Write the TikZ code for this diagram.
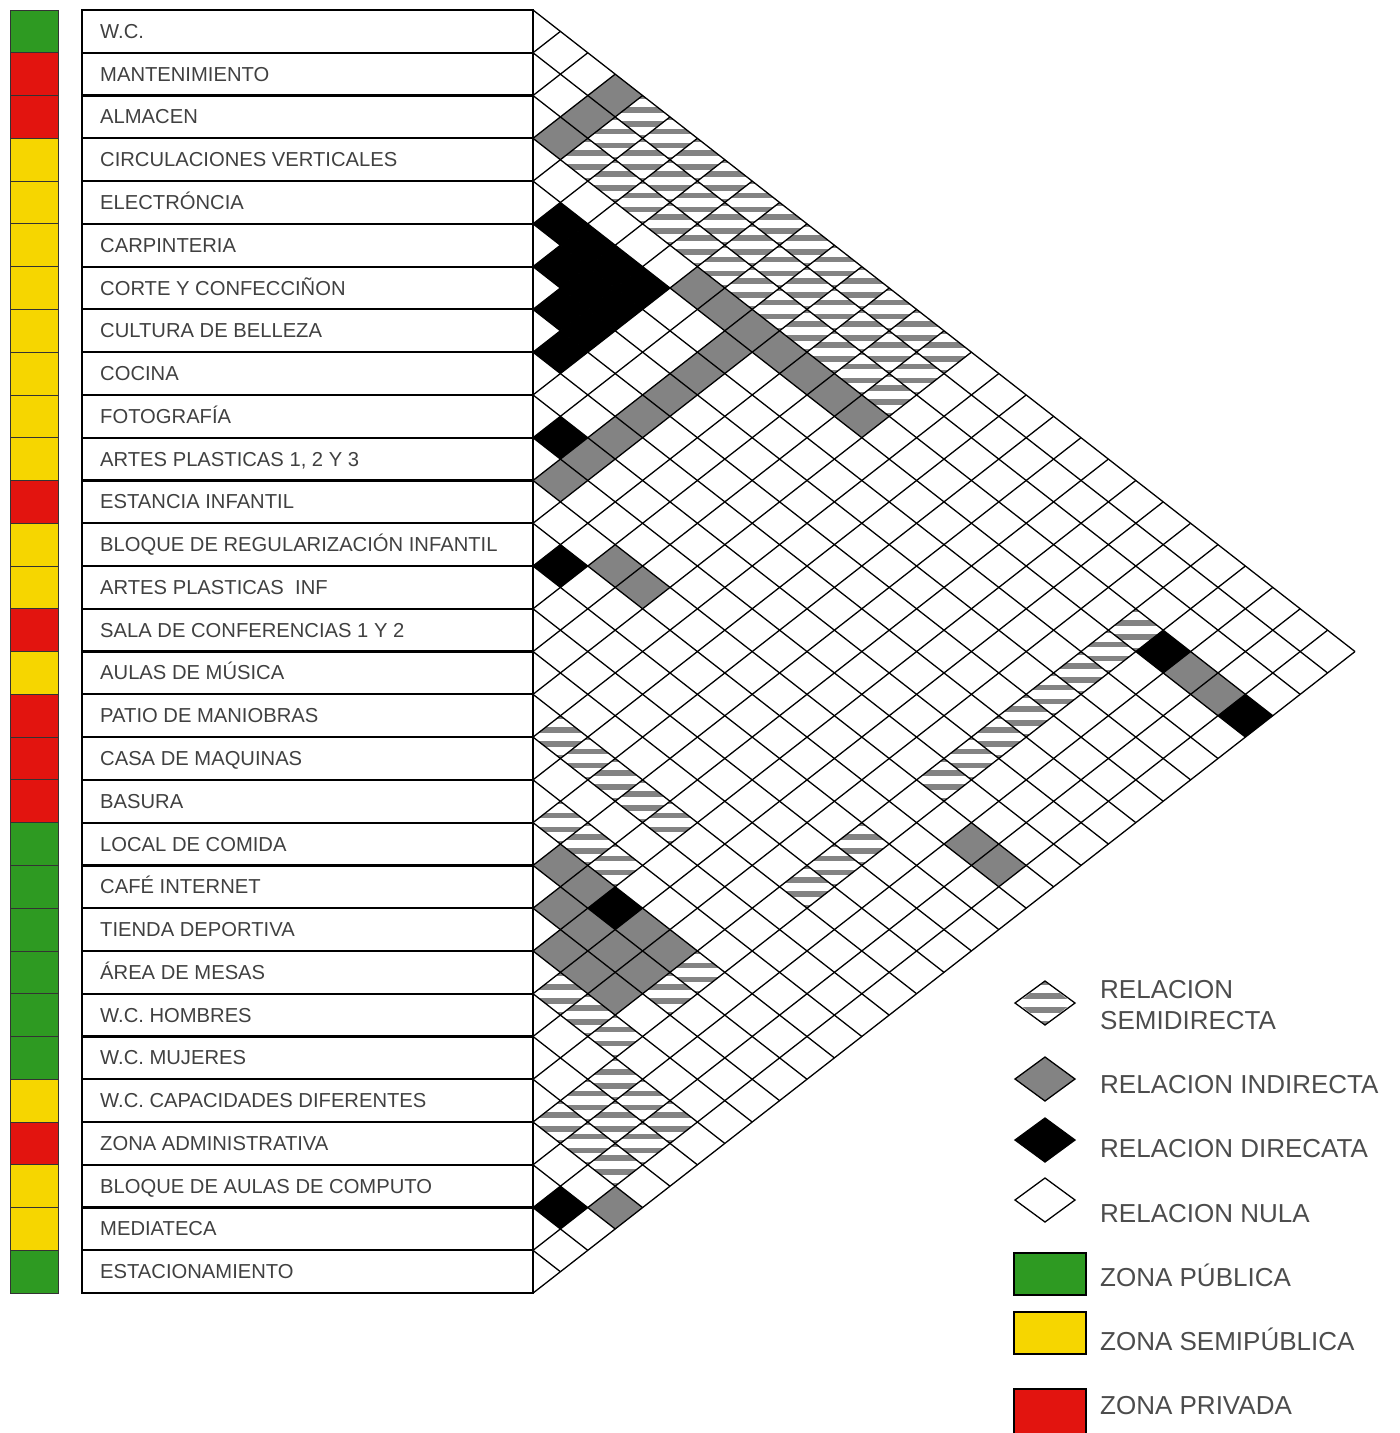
\documentclass[tikz,border=0pt]{standalone}
\usepackage{fontspec}
\setmainfont{Liberation Sans}
\definecolor{zpub}{HTML}{2E9A22}
\definecolor{zsemi}{HTML}{F6D600}
\definecolor{zpriv}{HTML}{E2140F}
\definecolor{celgray}{HTML}{838383}

% one diamond of the matrix: style, row i, row j
\newcommand{\relcell}[3]{%
  \pgfmathsetmacro{\cx}{533+(#3-#2)*27.4}%
  \pgfmathsetmacro{\cy}{10+(#2+#3-1)*21.385}%
  \fill[#1] (\cx-27.4,\cy) -- (\cx,\cy-21.385) -- (\cx+27.4,\cy) -- (\cx,\cy+21.385) -- cycle;}
% striped diamond (semidirect), center x, center y
\newcommand{\stripes}[2]{%
  \begin{scope}
    \clip (#1-27.4,#2) -- (#1,#2-21.385) -- (#1+27.4,#2) -- (#1,#2+21.385) -- cycle;
    \foreach \o in {-21,-7,7,21} {\fill[celgray] (#1-31,#2+\o-2.8) rectangle (#1+31,#2+\o+2.8);}
  \end{scope}}
\newcommand{\semicell}[2]{%
  \pgfmathsetmacro{\cx}{533+(#2-#1)*27.4}%
  \pgfmathsetmacro{\cy}{10+(#1+#2-1)*21.385}%
  \stripes{\cx}{\cy}}

\begin{document}
\begin{tikzpicture}[x=1pt,y=-1pt,
    rowlabel/.style={anchor=base west, inner sep=0pt, text=black!75, font=\fontsize{20.2}{21}\selectfont},
    legendtext/.style={anchor=base west, inner sep=0pt, text=black!70, font=\fontsize{26}{31}\selectfont},
    gridline/.style={line width=1.3pt},
    rowbox/.style={line width=2.2pt},
    zonebox/.style={draw=black!80, line width=0.8pt},
    legendbox/.style={draw=black, line width=2.5pt},
    indirecta/.style={fill=celgray},
    directa/.style={fill=black}]
    \useasboundingbox (0,0) rectangle (1400,1433);

    % Indirect relations
    \foreach \i/\j in {1/4,2/4,3/4,4/10,4/11,4/12,4/13,4/14,4/15,4/16,
        5/12,6/12,7/12,8/12,9/12,10/12,11/12,12/15,12/16,4/28,4/29,12/28,12/29,
        20/21,20/22,20/24,20/25,21/22,21/23,21/24,21/25,22/23,22/24,22/25,27/30}
        {\relcell{indirecta}{\i}{\j}}

    % Direct relations
    \foreach \i/\j in {5/6,5/7,5/8,5/9,6/7,6/8,6/9,7/8,7/9,8/9,
        10/11,13/14,4/27,4/30,20/23,28/29}
        {\relcell{directa}{\i}{\j}}

    % Semidirect relations
    \foreach \i in {1,2,3} {\foreach \j in {5,...,16} {\semicell{\i}{\j}}}
    \foreach \i in {4,...,11,14,15,16} {\semicell{\i}{26}}
    \foreach \i/\j in {17/18,17/19,17/20,17/21,17/22,19/20,19/21,19/22,
        20/26,21/26,23/24,23/25,23/26}
        {\semicell{\i}{\j}}
    \foreach \i in {24,25,26} {\foreach \j in {27,28,29} {\semicell{\i}{\j}}}

    % Grid of the matrix
    \foreach \k in {0,...,29}
        \draw[gridline] (533,10+\k*42.77) -- ++({(30-\k)*27.4},{(30-\k)*21.385});
    \foreach \k in {1,...,30}
        \draw[gridline] (533,10+\k*42.77) -- ++({\k*27.4},{-\k*21.385});

    % Rows with zone colour and name
    \foreach \name/\zc [count=\i] in {W.C./zpub, MANTENIMIENTO/zpriv, ALMACEN/zpriv,
        CIRCULACIONES VERTICALES/zsemi, ELECTRÓNCIA/zsemi, CARPINTERIA/zsemi,
        CORTE Y CONFECCIÑON/zsemi, CULTURA DE BELLEZA/zsemi, COCINA/zsemi,
        FOTOGRAFÍA/zsemi, {ARTES PLASTICAS 1, 2 Y 3}/zsemi, ESTANCIA INFANTIL/zpriv,
        BLOQUE DE REGULARIZACIÓN INFANTIL/zsemi, ARTES PLASTICAS\ \ INF/zsemi,
        SALA DE CONFERENCIAS 1 Y 2/zpriv, AULAS DE MÚSICA/zsemi,
        PATIO DE MANIOBRAS/zpriv, CASA DE MAQUINAS/zpriv, BASURA/zpriv,
        LOCAL DE COMIDA/zpub, CAFÉ INTERNET/zpub, TIENDA DEPORTIVA/zpub,
        ÁREA DE MESAS/zpub, W.C. HOMBRES/zpub, W.C. MUJERES/zpub,
        W.C. CAPACIDADES DIFERENTES/zsemi, ZONA ADMINISTRATIVA/zpriv,
        BLOQUE DE AULAS DE COMPUTO/zsemi, MEDIATECA/zsemi, ESTACIONAMIENTO/zpub}
    {
        \draw[zonebox, fill=\zc] (10,10+\i*42.77-42.77) rectangle (58,10+\i*42.77);
        \draw[rowbox] (82,10+\i*42.77-42.77) rectangle (533,10+\i*42.77);
        \node[rowlabel] (row\i) at (100,10+\i*42.77-21.385+7) {\name};
    }

    % Legend
    \stripes{1045}{1003}
    \draw[gridline] (1015,1003) -- (1045,981) -- (1075,1003) -- (1045,1025) -- cycle;
    \draw[gridline, indirecta] (1015,1079) -- (1045,1057) -- (1075,1079) -- (1045,1101) -- cycle;
    \draw[gridline, directa] (1015,1140) -- (1045,1118) -- (1075,1140) -- (1045,1162) -- cycle;
    \draw[gridline] (1015,1200) -- (1045,1178) -- (1075,1200) -- (1045,1222) -- cycle;
    \draw[legendbox, fill=zpub] (1014,1253) rectangle (1086,1295);
    \draw[legendbox, fill=zsemi] (1014,1312) rectangle (1086,1354);
    \draw[legendbox, fill=zpriv] (1014,1389) rectangle (1086,1440);

    \node[legendtext] (lsemi) at (1100,998) {RELACION};
    \node[legendtext] (lsemib) at (1100,1029) {SEMIDIRECTA};
    \node[legendtext] (lind) at (1100,1093) {RELACION INDIRECTA};
    \node[legendtext] (ldir) at (1100,1157) {RELACION DIRECATA};
    \node[legendtext] (lnul) at (1100,1222) {RELACION NULA};
    \node[legendtext] (lpub) at (1100,1286) {ZONA PÚBLICA};
    \node[legendtext] (lsem) at (1100,1350) {ZONA SEMIPÚBLICA};
    \node[legendtext] (lpriv) at (1100,1414) {ZONA PRIVADA};

\end{tikzpicture}
\end{document}
